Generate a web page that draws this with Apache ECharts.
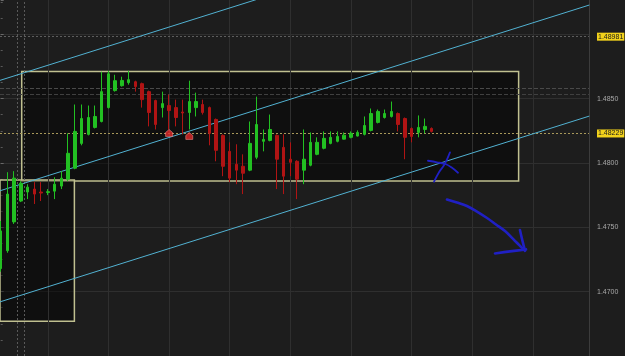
<!DOCTYPE html>
<html><head><meta charset="utf-8">
<script src="https://cdn.jsdelivr.net/npm/echarts@6/dist/echarts.min.js"></script>
<style>html,body{margin:0;padding:0;background:#1c1c1c;}#c{width:625px;height:356px;}</style>
</head><body><div id="c"></div>
<script>
// candle OHLC values (index 0..64)
const opens = [1.47179,1.47318,1.47542,1.47704,1.47774,1.47797,1.47774,1.47770,1.47781,1.47820,
1.47874,1.47959,1.48152,1.48222,1.48276,1.48322,1.48430,1.48562,1.48600,1.48624,
1.48631,1.48616,1.48554,1.48485,1.48430,1.48446,1.48430,1.48396,1.48392,1.48430,
1.48454,1.48430,1.48338,1.48214,1.48090,1.47990,1.47974,1.47944,1.48044,1.48168,
1.48175,1.48214,1.48121,1.48029,1.48013,1.47944,1.47982,1.48067,1.48114,1.48152,
1.48168,1.48185,1.48199,1.48209,1.48222,1.48253,1.48315,1.48353,1.48361,1.48384,
1.48345,1.48268,1.48237,1.48260,1.48268];
const closes = [1.47472,1.47758,1.47882,1.47843,1.47812,1.47758,1.47766,1.47777,1.47835,1.47882,
1.48075,1.48245,1.48345,1.48353,1.48361,1.48554,1.48693,1.48639,1.48641,1.48647,
1.48593,1.48492,1.48392,1.48299,1.48461,1.48407,1.48353,1.48388,1.48477,1.48477,
1.48392,1.48230,1.48098,1.47974,1.47882,1.47944,1.47920,1.48152,1.48299,1.48183,
1.48260,1.48029,1.47897,1.48005,1.47874,1.48029,1.48160,1.48160,1.48191,1.48199,
1.48206,1.48216,1.48230,1.48237,1.48291,1.48384,1.48400,1.48384,1.48400,1.48299,
1.48199,1.48206,1.48276,1.48284,1.48245];
const lows = [1.47155,1.47302,1.47526,1.47696,1.47719,1.47681,1.47704,1.47750,1.47719,1.47797,
1.47859,1.47951,1.48137,1.48214,1.48268,1.48315,1.48423,1.48554,1.48593,1.48608,
1.48554,1.48430,1.48284,1.48260,1.48353,1.48260,1.48284,1.48222,1.48260,1.48361,
1.48376,1.48137,1.48013,1.47897,1.47851,1.47835,1.47758,1.47936,1.48029,1.48090,
1.48168,1.47797,1.47758,1.47897,1.47719,1.47835,1.47974,1.48060,1.48106,1.48145,
1.48160,1.48183,1.48191,1.48206,1.48214,1.48245,1.48307,1.48345,1.48353,1.48245,
1.48029,1.48160,1.48199,1.48230,1.48237];
const highs = [1.47549,1.47928,1.47936,1.47859,1.47835,1.47851,1.47851,1.47797,1.47889,1.47936,
1.48230,1.48454,1.48454,1.48446,1.48446,1.48709,1.48716,1.48685,1.48670,1.48716,
1.48639,1.48624,1.48562,1.48492,1.48554,1.48531,1.48492,1.48492,1.48639,1.48546,
1.48492,1.48438,1.48345,1.48222,1.48160,1.48145,1.48067,1.48322,1.48515,1.48260,
1.48376,1.48222,1.48222,1.48160,1.48021,1.48260,1.48237,1.48199,1.48245,1.48245,
1.48245,1.48237,1.48245,1.48253,1.48361,1.48423,1.48415,1.48415,1.48477,1.48392,
1.48353,1.48276,1.48369,1.48345,1.48276];

// price levels
const priceLines = [1.48981, 1.48229];
const dashedLevels = [1.48577, 1.48531];
// axis tick labels hidden under the price-line boxes
const hiddenTickLabels = [1.4900];
// vertical grid (bar index) and session separators
const gridIdx = [7, 16, 25, 34, 43, 52, 61, 70, 79];
const sessionIdx = [2.5, 3.55];

// channel lines [index, price]
const channelA = [[-0.2, 1.48640], [87.4, 1.50085]];
const channelB = [[-0.2, 1.47782], [87.4, 1.49227]];
const channelC = [[-0.2, 1.46919], [87.4, 1.48364]];

// rectangles [[idx1, price1], [idx2, price2]]
const rectBig = [[3.12, 1.48711], [76.9, 1.47860]];
const rectSmall = [[-3, 1.47868], [10.94, 1.46770]];

// red markers
const markers = [[25, 1.48233], [28, 1.48210]];

// hand-drawn blue strokes
const scribble1 = [[63.44,1.48017],[64.78,1.48005],[66.12,1.47990],[67.01,1.47962],[67.90,1.47924]];
const scribble2 = [[66.71,1.48082],[66.27,1.48028],[65.82,1.47982],[65.08,1.47928],[64.34,1.47854]];
const arrowCurve = [[66.26,1.47715],[67.75,1.47692],[69.23,1.47665],[70.72,1.47622],[72.21,1.47572],
  [73.54,1.47522],[74.88,1.47471],[76.07,1.47410],[76.96,1.47363],[77.70,1.47324]];
const arrowHeadA = [[77.10,1.47479],[77.40,1.47410],[77.85,1.47317]];
const arrowHeadB = [[73.39,1.47297],[75.62,1.47313],[78.0,1.47328]];

const candles = opens.map((o, i) => [i, o, closes[i], lows[i], highs[i]]);

const chart = echarts.init(document.getElementById('c'), null, {renderer: 'canvas'});
const FONT = 'Liberation Sans, DejaVu Sans, sans-serif';
const blue = '#2020c4';
function stroke(data, w) {
  return {type: 'line', data: data, symbol: 'none', smooth: 0.35, z: 6, silent: true,
    lineStyle: {color: blue, width: w, cap: 'round', join: 'round'}};
}
chart.setOption({
  animation: false,
  backgroundColor: '#1d1d1d',
  grid: {left: 0, top: 0, width: 589, height: 357.6, containLabel: false},
  xAxis: {type: 'value', min: -0.104, max: 87.35, show: false},
  yAxis: [{
    type: 'value', position: 'right', offset: 5, min: 1.465, max: 1.49266, interval: 0.005,
    axisLine: {show: false},
    axisTick: {show: true, length: 3, lineStyle: {color: '#6a6a6a'}},
    minorTick: {show: true, splitNumber: 4, length: 2, lineStyle: {color: '#5a5a5a'}},
    axisLabel: {show: true, margin: 3, color: '#a8a8a8', fontSize: 7, fontFamily: FONT,
      showMinLabel: false, showMaxLabel: false,
      formatter: v => hiddenTickLabels.some(h => Math.abs(h - v) < 1e-9) ? '' : v.toFixed(4)},
    splitLine: {show: true, showMinLine: false, showMaxLine: false, lineStyle: {color: '#2f2f2f', width: 1}}
  }, {
    type: 'value', position: 'right', offset: 0, min: 1.465, max: 1.49266,
    axisLine: {show: true, lineStyle: {color: '#3c3c3c'}},
    axisTick: {show: false}, axisLabel: {show: false}, splitLine: {show: false}
  }],
  series: [
    { // rectangles + vertical grid
      type: 'line', data: [], clip: false, silent: true,
      markArea: {
        silent: true, z: 1, precision: 6,
        itemStyle: {color: 'rgba(0,0,0,0.45)', borderColor: '#c0c090', borderWidth: 1.5},
        data: [
          [{coord: rectBig[0]}, {coord: rectBig[1]}],
          [{coord: rectSmall[0]}, {coord: rectSmall[1]}]
        ]
      },
      markLine: {
        silent: true, z: 2, precision: 6, symbol: ['none', 'none'], label: {show: false},
        lineStyle: {color: '#2f2f2f', type: 'solid', width: 1},
        data: gridIdx.map(v => ({xAxis: v})).concat(
          sessionIdx.map(v => ({xAxis: v, lineStyle: {color: '#5a5a5a', type: [2, 2], width: 1}})))
      }
    },
    { // horizontal levels
      type: 'line', data: [], clip: false, silent: true,
      markLine: {
        silent: true, z: 2, precision: 6, symbol: ['none', 'none'],
        data: [
          {yAxis: priceLines[0], lineStyle: {color: '#5e5e5e', type: [2, 2], width: 1},
            label: {show: true, position: 'end', distance: 8, formatter: priceLines[0].toFixed(5),
              backgroundColor: '#f2d21b', color: '#1a1a1a', fontSize: 7, fontFamily: FONT, padding: [1, 1, 0, 1]}},
          {yAxis: priceLines[1], lineStyle: {color: '#a8985a', type: [2, 2], width: 1},
            label: {show: true, position: 'end', distance: 8, formatter: priceLines[1].toFixed(5),
              backgroundColor: '#f2d21b', color: '#1a1a1a', fontSize: 7, fontFamily: FONT, padding: [1, 1, 0, 1]}},
          {yAxis: dashedLevels[0], lineStyle: {color: '#4a4a4a', type: [4, 2], width: 1}, label: {show: false}},
          {yAxis: dashedLevels[1], lineStyle: {color: '#404040', type: [4, 2], width: 1}, label: {show: false}}
        ]
      }
    },
    {type: 'line', data: channelA, symbol: 'none', z: 3, silent: true, lineStyle: {color: '#52b2d2', width: 1}},
    {type: 'line', data: channelB, symbol: 'none', z: 3, silent: true, lineStyle: {color: '#52b2d2', width: 1}},
    {type: 'line', data: channelC, symbol: 'none', z: 3, silent: true, lineStyle: {color: '#52b2d2', width: 1}},
    {
      type: 'candlestick', data: candles, encode: {x: 0, y: [1, 2, 3, 4]}, z: 4, barWidth: 3,
      itemStyle: {color: '#22c022', color0: '#b01414', borderColor: '#22c022', borderColor0: '#b01414', borderWidth: 1}
    },
    {
      type: 'scatter', data: markers, z: 5, silent: true,
      symbol: 'path://M4,0 L8,3.5 L8,8 L0,8 L0,3.5 Z', symbolSize: [7, 7],
      itemStyle: {color: '#e42a2a', borderColor: '#ff9c9c', borderWidth: 0.6}
    },
    stroke(scribble1, 1.8),
    stroke(scribble2, 1.8),
    stroke(arrowCurve, 2.6),
    stroke(arrowHeadA, 2.6),
    stroke(arrowHeadB, 2.6)
  ]
});
</script>
</body></html>
